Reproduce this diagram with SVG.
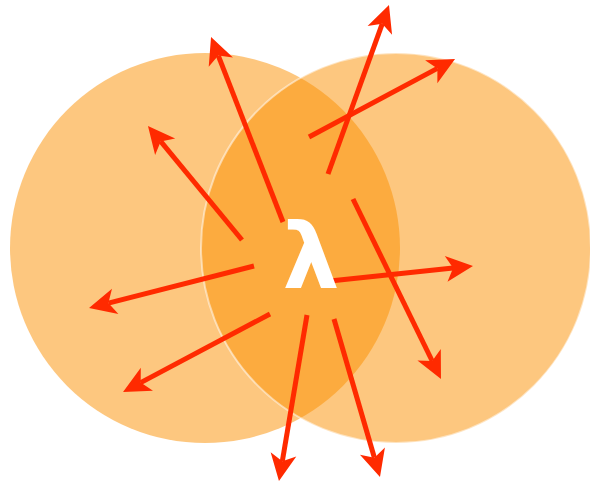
<svg xmlns="http://www.w3.org/2000/svg" width="590" height="486" viewBox="0 0 590 486">
<style>
.c{fill:#FB9000;fill-opacity:0.5}
.a{stroke:#FF2A00;stroke-width:5;fill:none;marker-end:url(#h)}
.l{font-family:"DejaVu Sans",sans-serif;font-weight:bold;font-size:90px;fill:#fff}
</style>
<defs>
<marker id="h" markerUnits="userSpaceOnUse" viewBox="-30 -15 32 30" refX="-20" refY="0" markerWidth="32" markerHeight="30" orient="auto">
<path d="M0,0 L-27,-13 L-20,0 L-27,13 Z" fill="#FF2A00"/>
</marker>
</defs>
<g id="left-circle"><circle class="c" cx="205" cy="248" r="195"/></g>
<g id="right-circle"><circle class="c" cx="396" cy="248" r="195" stroke="#fff" stroke-opacity="0.5" stroke-width="2"/></g>
<g id="connectors">
<line class="a" x1="283" y1="222" x2="218.3" y2="55.6"/>
<line class="a" x1="242" y1="240" x2="160.7" y2="141.4"/>
<line class="a" x1="254" y1="266" x2="108.4" y2="303.1"/>
<line class="a" x1="270" y1="314" x2="140.7" y2="382.6"/>
<line class="a" x1="307" y1="315" x2="282.3" y2="461.3"/>
<line class="a" x1="334" y1="319" x2="374.4" y2="457.8"/>
<line class="a" x1="353" y1="199" x2="432.2" y2="361"/>
<line class="a" x1="330" y1="281" x2="453.1" y2="268.1"/>
<line class="a" x1="328" y1="174" x2="382.2" y2="23.8"/>
<line class="a" x1="309" y1="137" x2="437.4" y2="68.4"/>
</g>
<g id="lambda"><text class="l" x="311" y="288" text-anchor="middle">λ</text></g>
</svg>
